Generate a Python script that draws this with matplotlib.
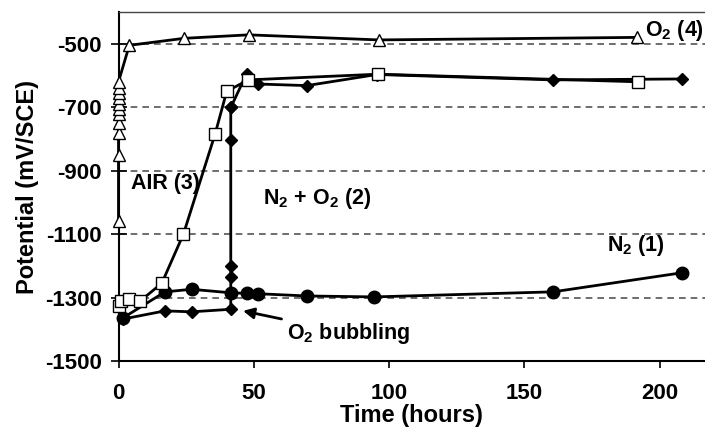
import matplotlib
matplotlib.use("Agg")
import matplotlib.pyplot as plt

plt.rcParams['font.family'] = ['Liberation Sans', 'DejaVu Sans']
plt.rcParams['font.weight'] = 'bold'
plt.rcParams['mathtext.default'] = 'regular'

# ---- data ----
# N2 (1): filled circles
n2_t = [1.5, 17.2, 27.0, 41.5, 47.4, 51.7, 69.6, 94.5, 160.7, 208.2]
n2_v = [-1365, -1282, -1274, -1285, -1287, -1288, -1295, -1298, -1282, -1222]

# N2 + O2 (2): filled diamonds
mix_t = [1.5, 17.2, 27.0, 41.5, 41.5, 41.5, 41.5, 41.5, 41.5, 41.5, 47.4, 51.7, 69.6, 95.5, 160.7, 208.2]
mix_v = [-1368, -1342, -1345, -1337, -1285, -1235, -1200, -803, -701, -701, -594, -627, -632, -597, -614, -611]

# AIR (3): open squares
air_t = [0.0, 0.8, 4.0, 8.0, 16.0, 24.0, 35.7, 40.0, 48.0, 96.0, 192.0]
air_v = [-1328, -1312, -1305, -1311, -1255, -1100, -785, -650, -614, -596, -620]

# O2 (4): open triangles
o2_t = [0, 0, 0, 0, 0, 0, 0, 0, 0, 0, 0, 4.0, 24.2, 48.1, 96.2, 191.8]
o2_v = [-1060, -850, -780, -750, -720, -705, -690, -670, -655, -640, -620, -505, -483, -472, -488, -480]

yticks = [-500, -700, -900, -1100, -1300, -1500]
xticks = [0, 50, 100, 150, 200]

fig = plt.figure(figsize=(7.05, 4.32), dpi=100)
ax = fig.add_axes([118.5 / 705, 71 / 432, 1 - 118.5 / 705, 349 / 432])

lw = 2.0
ax.plot(n2_t, n2_v, '-', color='black', lw=lw, marker='o', ms=9,
        mfc='black', mec='black', zorder=3, clip_on=False)
ax.plot(mix_t, mix_v, '-', color='black', lw=lw, marker='D', ms=6,
        mfc='black', mec='black', zorder=4, clip_on=False)
ax.plot(air_t, air_v, '-', color='black', lw=lw, marker='s', ms=9,
        mfc='white', mec='black', mew=1.0, zorder=5, clip_on=False)
ax.plot(o2_t, o2_v, '-', color='black', lw=lw, marker='^', ms=9,
        mfc='white', mec='black', mew=1.0, zorder=5, clip_on=False)

ax.set_xlim(0, 216.8)
ax.set_ylim(-1500, -400)
ax.set_xticks(xticks)
ax.set_yticks(yticks)
ax.set_xticklabels([str(v) for v in xticks])
ax.set_yticklabels([str(v) for v in yticks])

for v in yticks[:-1]:
    ax.axhline(v, color='#555555', lw=1.2, ls=(0, (4, 3)), zorder=1)

ax.spines['right'].set_visible(False)
ax.spines['top'].set_color('#444444')
ax.spines['top'].set_linewidth(1.0)
ax.spines['left'].set_linewidth(1.5)
ax.spines['bottom'].set_linewidth(1.5)

ax.tick_params(axis='y', direction='inout', length=12, width=1.2, labelsize=16, pad=6)
ax.tick_params(axis='x', direction='out', length=5, width=1.2, labelsize=16, pad=11)
for lab in ax.get_xticklabels() + ax.get_yticklabels():
    lab.set_fontweight('bold')

ax.set_xlabel('Time (hours)', fontsize=17, fontweight='bold', labelpad=0)
ax.set_ylabel('Potential (mV/SCE)', fontsize=17, fontweight='bold', labelpad=4)

fs = 15.5
ax.text(4.6, -942, 'AIR (3)', fontsize=fs, fontweight='bold', ha='left', va='center')
ax.text(53.4, -989, 'N$_2$ + O$_2$ (2)', fontsize=fs, fontweight='bold', ha='left', va='center')
ax.text(180.6, -1137, 'N$_2$ (1)', fontsize=fs, fontweight='bold', ha='left', va='center')
ax.text(194.6, -459, 'O$_2$ (4)', fontsize=fs, fontweight='bold', ha='left', va='center')
ax.annotate('O$_2$ bubbling', xy=(46, -1342), xytext=(62.3, -1412),
            fontsize=fs, fontweight='bold', ha='left', va='center',
            arrowprops=dict(arrowstyle='-|>', color='black', lw=2,
                            mutation_scale=16, shrinkA=2, shrinkB=0))

fig.savefig('out.png', dpi=100)
